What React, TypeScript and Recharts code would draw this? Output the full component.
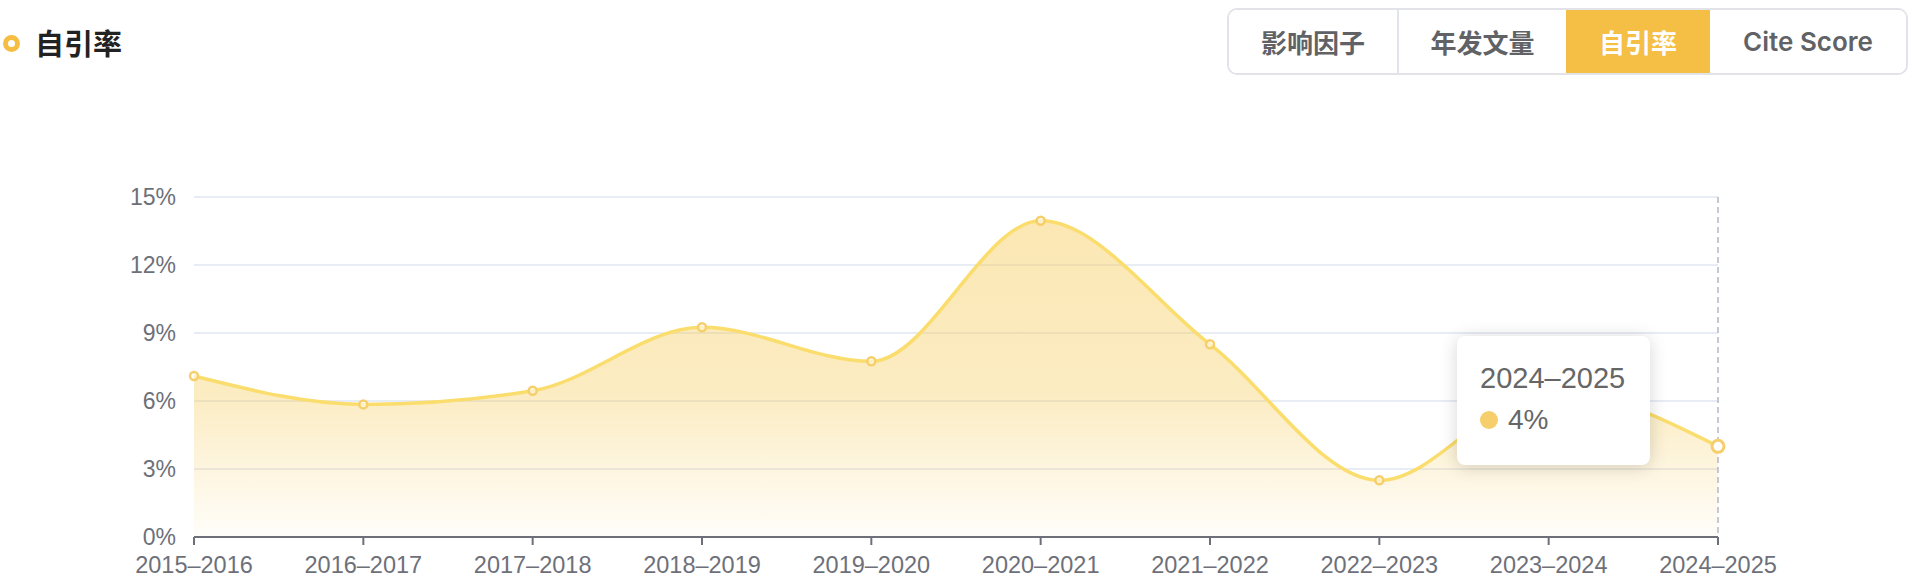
import React from "react";
import {
  AreaChart,
  Area,
  XAxis,
  YAxis,
  CartesianGrid,
  Tooltip,
} from "recharts";

const categories = [
  "2015–2016",
  "2016–2017",
  "2017–2018",
  "2018–2019",
  "2019–2020",
  "2020–2021",
  "2021–2022",
  "2022–2023",
  "2023–2024",
  "2024–2025",
];
const selfCiteRate = [7.1, 5.85, 6.45, 9.25, 7.75, 13.95, 8.5, 2.5, 6.5, 4];
const yTicks = [0, 3, 6, 9, 12, 15];
const tabs = ["影响因子", "年发文量", "自引率", "Cite Score"];
const tabWidths = [170, 169, 144, 198];
const activeTab = 2;

const data = categories.map((name, i) => ({ name, value: selfCiteRate[i] }));

const FONT = "'Liberation Sans', 'Noto Sans CJK SC', sans-serif";

function TipBox({ active, payload, label }: any) {
  if (!active || !payload || !payload.length) return null;
  return (
    <div
      style={{
        width: 193,
        height: 129,
        boxSizing: "border-box",
        background: "#fff",
        borderRadius: 8,
        boxShadow: "0 2px 18px rgba(0,0,0,0.16)",
        padding: "26px 0 0 23px",
        fontFamily: FONT,
        color: "#666",
      }}
    >
      <div style={{ fontSize: 29, lineHeight: "32px" }}>{label}</div>
      <div style={{ display: "flex", alignItems: "center", marginTop: 10 }}>
        <span
          style={{
            width: 18,
            height: 18,
            borderRadius: 9,
            background: "#F6CF6C",
            display: "inline-block",
            marginRight: 10,
          }}
        />
        <span style={{ fontSize: 28, lineHeight: "32px" }}>
          {payload[0].value}%
        </span>
      </div>
    </div>
  );
}

export default function App() {
  return (
    <div
      style={{
        position: "absolute",
        left: 0,
        top: 0,
        width: 1918,
        height: 578,
        background: "#fff",
        fontFamily: FONT,
      }}
    >
      {/* header */}
      <div
        style={{
          position: "absolute",
          left: 3,
          top: 35,
          width: 17,
          height: 17,
          borderRadius: "50%",
          background: "#F5BE42",
        }}
      >
        <div
          style={{
            position: "absolute",
            left: 5,
            top: 5,
            width: 7,
            height: 7,
            borderRadius: "50%",
            background: "#fff",
          }}
        />
      </div>
      <div
        style={{
          position: "absolute",
          left: 35,
          top: 22,
          fontSize: 29,
          fontWeight: 700,
          lineHeight: "40px",
          color: "#222",
          fontFamily: "'Noto Sans CJK SC', sans-serif",
        }}
      >
        自引率
      </div>

      {/* tab group */}
      <div
        style={{
          position: "absolute",
          left: 1227,
          top: 8,
          width: 681,
          height: 67,
          boxSizing: "border-box",
          border: "2px solid #E2E3E8",
          borderRadius: 10,
          overflow: "hidden",
          display: "flex",
        }}
      >
        {tabs.map((t, i) => (
          <div
            key={t}
            style={{
              width:
                tabWidths[i] -
                (i === 0 ? 2 : 0) -
                (i === tabs.length - 1 ? 2 : 0),
              height: "100%",
              boxSizing: "border-box",
              borderLeft:
                i > 0 && i !== activeTab && i - 1 !== activeTab
                  ? "2px solid #E2E3E8"
                  : "none",
              background: i === activeTab ? "#F5BE44" : "#fff",
              color: i === activeTab ? "#fff" : "#606266",
              fontSize: 26,
              fontWeight: 600,
              fontFamily: "Inter, 'Noto Sans CJK SC', sans-serif",
              display: "flex",
              alignItems: "center",
              justifyContent: "center",
            }}
          >
            {t}
          </div>
        ))}
      </div>

      <div style={{ position: "absolute", left: 0, top: 0 }}>
        <AreaChart
          width={1918}
          height={578}
          data={data}
          margin={{ top: 197, right: 200, left: 0, bottom: 0 }}
        >
          <defs>
            <linearGradient id="rateFill" x1="0" y1="0" x2="0" y2="1">
              <stop offset="0%" stopColor="#F5C850" stopOpacity={0.72} />
              <stop offset="55%" stopColor="#F5C850" stopOpacity={0.58} />
              <stop offset="100%" stopColor="#F5C850" stopOpacity={0.05} />
            </linearGradient>
          </defs>
          <CartesianGrid vertical={false} stroke="#E0E6F1" strokeWidth={1.5} />
          <XAxis
            dataKey="name"
            height={41}
            tickSize={8}
            tickMargin={11}
            stroke="#6E7079"
            strokeWidth={2}
            tick={{ fill: "#6E7079", fontSize: 23.5, fontFamily: FONT }}
            interval={0}
          />
          <YAxis
            width={194}
            domain={[0, 15]}
            ticks={yTicks}
            axisLine={false}
            tickLine={false}
            tickSize={0}
            tickMargin={18}
            tickFormatter={(v: number) => `${v}%`}
            tick={{ fill: "#6E7079", fontSize: 23, fontFamily: FONT }}
          />
          <Tooltip
            defaultIndex={9}
            content={<TipBox />}
            position={{ x: 1457, y: 336 }}
            cursor={{ stroke: "#B4B8C6", strokeWidth: 1.5, strokeDasharray: "6 4" }}
            wrapperStyle={{ outline: "none" }}
            isAnimationActive={false}
          />
          <Area
            type="monotone"
            dataKey="value"
            stroke="#FADD6C"
            strokeWidth={3.5}
            fill="url(#rateFill)"
            dot={{ r: 4, stroke: "#F6CF6C", strokeWidth: 2.5, fill: "#fff" }}
            activeDot={{ r: 6, stroke: "#F6CF6C", strokeWidth: 3, fill: "#fff" }}
            isAnimationActive={false}
          />
        </AreaChart>
      </div>
    </div>
  );
}
